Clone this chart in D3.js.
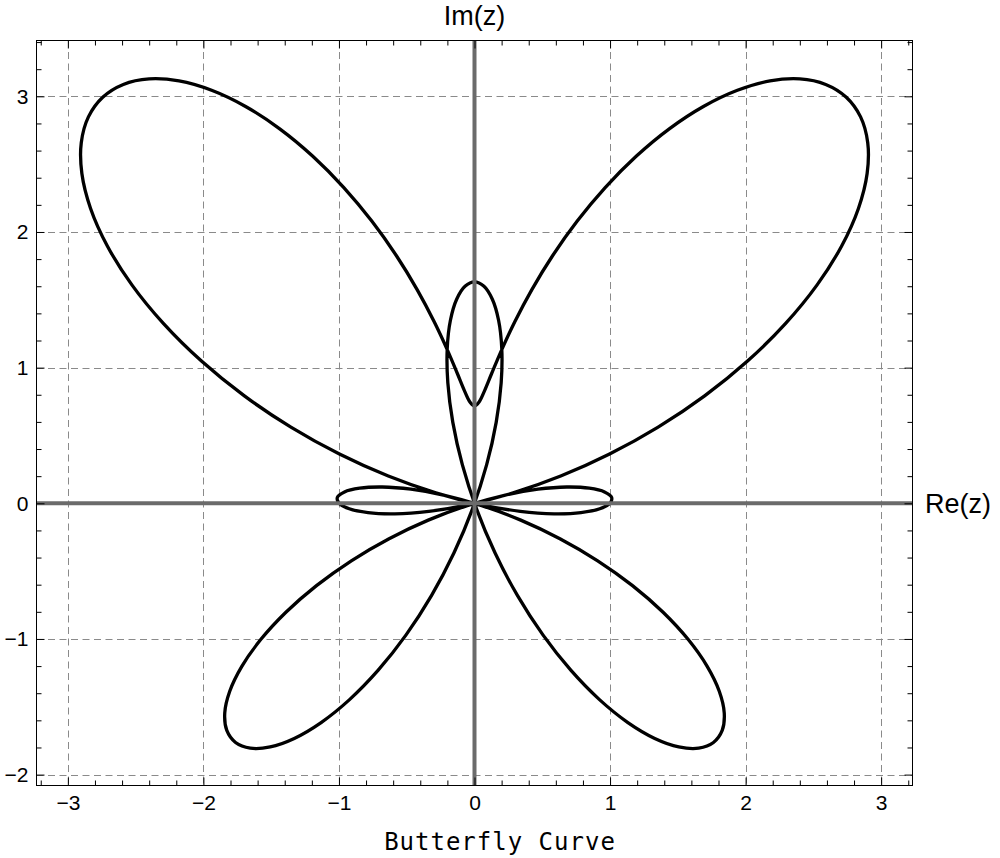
<!DOCTYPE html>
<html>
<head>
<meta charset="utf-8">
<script src="https://cdn.jsdelivr.net/npm/d3@7"></script>
<style>
  html, body { margin: 0; padding: 0; background: #fff; }
  svg { display: block; }
</style>
</head>
<body>
<svg id="chart" width="1000" height="858"></svg>
<script>
// ---- data: butterfly curve sampled in polar form (angle in degrees, radius) ----
const thetaDeg = [
  0, 2.5, 5, 7.5, 10, 12.5, 15, 17.5, 20, 22.5, 25, 27.5, 30, 32.5, 35, 37.5, 40, 42.5,
  45, 47.5, 50, 52.5, 55, 57.5, 60, 62.5, 65, 67.5, 70, 72.5, 75, 77.5, 80, 82.5, 85, 87.5,
  90, 92.5, 95, 97.5, 100, 102.5, 105, 107.5, 110, 112.5, 115, 117.5, 120, 122.5, 125, 127.5,
  130, 132.5, 135, 137.5, 140, 142.5, 145, 147.5, 150, 152.5, 155, 157.5, 160, 162.5, 165, 167.5,
  170, 172.5, 175, 177.5, 180, 182.5, 185, 187.5, 190, 192.5, 195, 197.5, 200, 202.5, 205, 207.5,
  210, 212.5, 215, 217.5, 220, 222.5, 225, 227.5, 230, 232.5, 235, 237.5, 240, 242.5, 245, 247.5,
  250, 252.5, 255, 257.5, 260, 262.5, 265, 267.5, 270, 272.5, 275, 277.5, 280, 282.5, 285, 287.5,
  290, 292.5, 295, 297.5, 300, 302.5, 305, 307.5, 310, 312.5, 315, 317.5, 320, 322.5, 325, 327.5,
  330, 332.5, 335, 337.5, 340, 342.5, 345, 347.5, 350, 352.5, 355, 357.5
];
const radius = [
  -1.00000, -0.92503, -0.78832, -0.59262, -0.34246, -0.04393, 0.29539, 0.66677, 1.06049, 1.46621,
  1.87324, 2.27089, 2.64872, 2.99695, 3.30672, 3.57020, 3.78122, 3.93481, 4.02811, 4.05985,
  4.03067, 3.94285, 3.80072, 3.60981, 3.37749, 3.11190, 2.82250, 2.51904, 2.21192, 1.91130,
  1.62726, 1.36903, 1.14519, 0.96307, 0.82859, 0.74608, 0.71828, 0.74608, 0.82859, 0.96307,
  1.14519, 1.36903, 1.62726, 1.91130, 2.21192, 2.51904, 2.82250, 3.11190, 3.37749, 3.60981,
  3.80072, 3.94285, 4.03067, 4.05985, 4.02811, 3.93481, 3.78122, 3.57020, 3.30672, 2.99695,
  2.64872, 2.27089, 1.87324, 1.46621, 1.06049, 0.66677, 0.29539, -0.04393, -0.34246, -0.59262,
  -0.78832, -0.92503, -1.00000, -1.01230, -0.96286, -0.85442, -0.69149, -0.48019, -0.22803, 0.05626,
  0.36303, 0.68202, 1.00264, 1.31422, 1.60653, 1.86990, 2.09559, 2.27608, 2.40521, 2.47847,
  2.49307, 2.44803, 2.34423, 2.18438, 1.97289, 1.71582, 1.42062, 1.09592, 0.75131, 0.39698,
  0.04345, -0.29873, -0.61938, -0.90887, -1.15858, -1.36101, -1.51011, -1.60139, -1.63212, -1.60139,
  -1.51011, -1.36101, -1.15858, -0.90887, -0.61938, -0.29873, 0.04345, 0.39698, 0.75131, 1.09592,
  1.42062, 1.71582, 1.97289, 2.18438, 2.34423, 2.44803, 2.49307, 2.47847, 2.40521, 2.27608,
  2.09559, 1.86990, 1.60653, 1.31422, 1.00264, 0.68202, 0.36303, 0.05626, -0.22803, -0.48019,
  -0.69149, -0.85442, -0.96286, -1.01230
];
const xMajorTicks = [-3, -2, -1, 0, 1, 2, 3];
const yMajorTicks = [-2, -1, 0, 1, 2, 3];
const xGridLines = [-3, -2, -1, 1, 2, 3];
const yGridLines = [-2, -1, 1, 2, 3];
const xLabel = "Re(z)";
const yLabel = "Im(z)";
const title = "Butterfly Curve";

// ---- layout ----
const frame = { left: 36.5, right: 912.5, top: 40.5, bottom: 785.5 };
const xDomain = [-3.235, 3.235];
const yDomain = [-2.084, 3.41];

const svg = d3.select("#chart");
const x = d3.scaleLinear().domain(xDomain).range([36, 913]);
const y = d3.scaleLinear().domain(yDomain).range([786, 40.7]);

function minorTicks(domain, step) {
  const out = [];
  const start = Math.ceil(domain[0] / step - 1e-9);
  const end = Math.floor(domain[1] / step + 1e-9);
  for (let i = start; i <= end; i++) {
    const v = +(i * step).toFixed(6);
    if (Math.abs(v - Math.round(v)) > 1e-6) out.push(v);
  }
  return out;
}
const xMinor = minorTicks(xDomain, 0.2);
const yMinor = minorTicks(yDomain, 0.2);

const fmt = d => (d < 0 ? "\u2212" + Math.abs(d) : String(d));
const tickFont = "'Liberation Sans', Arial, Helvetica, sans-serif";

// ---- grid lines ----
const grid = svg.append("g").attr("stroke", "#8a8a8a").attr("stroke-width", 1)
  .attr("stroke-dasharray", "7,4.5");
grid.selectAll("line.gx").data(xGridLines).join("line")
  .attr("x1", d => Math.round(x(d)) + 0.5).attr("x2", d => Math.round(x(d)) + 0.5)
  .attr("y1", frame.top).attr("y2", frame.bottom);
grid.selectAll("line.gy").data(yGridLines).join("line")
  .attr("y1", d => Math.round(y(d)) + 0.5).attr("y2", d => Math.round(y(d)) + 0.5)
  .attr("x1", frame.left).attr("x2", frame.right);

// ---- curve ----
const pts = thetaDeg.map((t, i) => {
  const a = t * Math.PI / 180;
  return [radius[i] * Math.cos(a), radius[i] * Math.sin(a)];
});
const line = d3.line()
  .x(d => x(d[0])).y(d => y(d[1]))
  .curve(d3.curveCatmullRomClosed.alpha(0.5));
svg.append("path").datum(pts)
  .attr("d", line)
  .attr("fill", "none").attr("stroke", "#000").attr("stroke-width", 3.3)
  .attr("stroke-linejoin", "round");

// ---- axes through origin (in front) ----
svg.append("line")
  .attr("x1", x(0)).attr("x2", x(0)).attr("y1", frame.top).attr("y2", frame.bottom)
  .attr("stroke", "#6b6b6b").attr("stroke-width", 4);
svg.append("line")
  .attr("y1", y(0)).attr("y2", y(0)).attr("x1", frame.left).attr("x2", frame.right)
  .attr("stroke", "#6b6b6b").attr("stroke-width", 4);

// ---- frame ----
svg.append("rect")
  .attr("x", frame.left).attr("y", frame.top)
  .attr("width", frame.right - frame.left).attr("height", frame.bottom - frame.top)
  .attr("fill", "none").attr("stroke", "#000").attr("stroke-width", 1);

// ---- ticks ----
function styleAxis(g, showText) {
  g.select(".domain").remove();
  g.selectAll(".tick line").attr("stroke", "#000").attr("stroke-width", 1);
  g.selectAll(".tick text")
    .attr("fill", "#000")
    .style("font-family", tickFont)
    .style("font-size", "21px");
  if (!showText) g.selectAll(".tick text").remove();
}
// bottom
svg.append("g").attr("transform", `translate(0,${frame.bottom})`)
  .call(d3.axisBottom(x).tickValues(xMajorTicks).tickSize(-8).tickPadding(10).tickFormat(fmt))
  .call(g => styleAxis(g, true));
svg.append("g").attr("transform", `translate(0,${frame.bottom})`)
  .call(d3.axisBottom(x).tickValues(xMinor).tickSize(-5).tickFormat(""))
  .call(g => styleAxis(g, false));
// top
svg.append("g").attr("transform", `translate(0,${frame.top})`)
  .call(d3.axisTop(x).tickValues(xMajorTicks).tickSize(-8).tickFormat(""))
  .call(g => styleAxis(g, false));
svg.append("g").attr("transform", `translate(0,${frame.top})`)
  .call(d3.axisTop(x).tickValues(xMinor).tickSize(-5).tickFormat(""))
  .call(g => styleAxis(g, false));
// left
svg.append("g").attr("transform", `translate(${frame.left},0)`)
  .call(d3.axisLeft(y).tickValues(yMajorTicks).tickSize(-8).tickPadding(8).tickFormat(fmt))
  .call(g => styleAxis(g, true));
svg.append("g").attr("transform", `translate(${frame.left},0)`)
  .call(d3.axisLeft(y).tickValues(yMinor).tickSize(-5).tickFormat(""))
  .call(g => styleAxis(g, false));
// right
svg.append("g").attr("transform", `translate(${frame.right},0)`)
  .call(d3.axisRight(y).tickValues(yMajorTicks).tickSize(-8).tickFormat(""))
  .call(g => styleAxis(g, false));
svg.append("g").attr("transform", `translate(${frame.right},0)`)
  .call(d3.axisRight(y).tickValues(yMinor).tickSize(-5).tickFormat(""))
  .call(g => styleAxis(g, false));

// ---- labels ----
svg.append("text")
  .attr("x", x(0)).attr("y", 25)
  .attr("text-anchor", "middle")
  .style("font-family", tickFont).style("font-size", "27px")
  .text(yLabel);
svg.append("text")
  .attr("x", 925).attr("y", y(0) + 9.7)
  .attr("text-anchor", "start")
  .style("font-family", tickFont).style("font-size", "27px")
  .text(xLabel);
svg.append("text")
  .attr("x", 500).attr("y", 850)
  .attr("text-anchor", "middle")
  .style("font-family", "'DejaVu Sans Mono', 'Liberation Mono', monospace")
  .style("font-size", "24px").style("letter-spacing", "1px")
  .text(title);
</script>
</body>
</html>
